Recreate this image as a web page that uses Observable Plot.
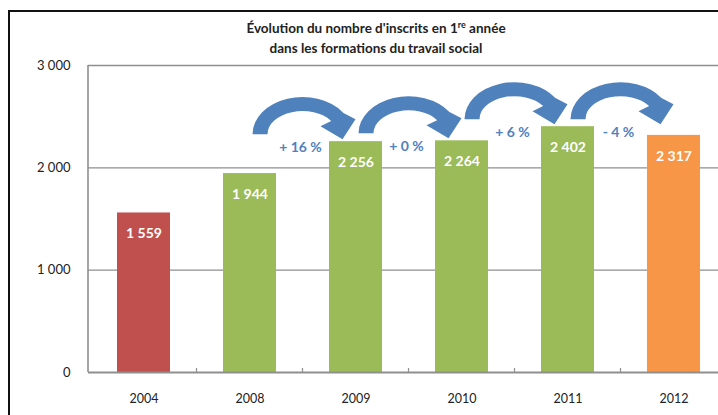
<!DOCTYPE html>
<html>
<head>
<meta charset="utf-8">
<script src="https://cdn.jsdelivr.net/npm/d3@7"></script>
<script src="https://cdn.jsdelivr.net/npm/@observablehq/plot@0.6"></script>
<style>
  html, body { margin: 0; padding: 0; background: #fff; }
  #wrap { position: relative; width: 718px; height: 415px; overflow: hidden; font-family: Lato, "Open Sans", sans-serif; }
  #frame { position: absolute; left: 8px; top: 10px; width: 800px; height: 600px; border: 2px solid #111; box-sizing: border-box; pointer-events: none; }
  #title { position: absolute; left: 0; top: 19px; width: 752px; text-align: center; font-weight: bold; font-size: 13.5px; line-height: 19px; color: #222; }
  #title sup { font-size: 9px; vertical-align: 0; position: relative; top: -5px; }
  #chart { position: absolute; left: 0; top: 0; }
</style>
</head>
<body>
<div id="wrap">
  <div id="chart"></div>
  <div id="frame"></div>
  <div id="title">Évolution du nombre d'inscrits en 1<sup>re</sup> année<br>dans les formations du travail social</div>
</div>
<script>
// ---- data ----
const years = ["2004", "2008", "2009", "2010", "2011", "2012"];
const inscrits = [1559, 1944, 2256, 2264, 2402, 2317];
const barColors = ["#C0504D", "#9BBB59", "#9BBB59", "#9BBB59", "#9BBB59", "#F79646"];
const yTicks = [0, 1000, 2000, 3000];
const yTickLabels = ["0", "1 000", "2 000", "3 000"];
const arrowPairs = [["2008", "2009"], ["2009", "2010"], ["2010", "2011"], ["2011", "2012"]];

// ---- derived tables ----
const fmt = v => String(v).replace(/\B(?=(\d{3})+(?!\d))/g, " ");
const bars = years.map((year, i) => ({year, value: inscrits[i], color: barColors[i], label: fmt(inscrits[i])}));
const valueOf = Object.fromEntries(years.map((y, i) => [y, inscrits[i]]));
const changes = arrowPairs.map(([from, to]) => {
  const pct = Math.round((valueOf[to] - valueOf[from]) / valueOf[from] * 100);
  return {from, to, top: Math.max(valueOf[from], valueOf[to]),
          label: (pct < 0 ? "- " : "+ ") + Math.abs(pct) + " %"};
});

const BLUE = "#4F81BD";
const GRID = "#8f8f8f";

function bw(s) { return typeof s.bandwidth === "function" ? s.bandwidth() : s.bandwidth; }

// custom mark: left axis line, category boundary ticks, curved arrows + labels
function decorations(index, scales, values, dim) {
  const ns = "http://www.w3.org/2000/svg";
  const g = document.createElementNS(ns, "g");
  const x = scales.x, y = scales.y, w = bw(x);
  const y0 = y(0);
  // left axis line
  const la = document.createElementNS(ns, "line");
  la.setAttribute("x1", dim.marginLeft); la.setAttribute("x2", dim.marginLeft);
  la.setAttribute("y1", y(3000)); la.setAttribute("y2", y0);
  la.setAttribute("stroke", GRID); la.setAttribute("stroke-width", 1.6);
  g.appendChild(la);
  // boundary ticks
  for (let i = 1; i < years.length; i++) {
    const bx = (x(years[i - 1]) + w + x(years[i])) / 2;
    const t = document.createElementNS(ns, "line");
    t.setAttribute("x1", bx); t.setAttribute("x2", bx);
    t.setAttribute("y1", y0); t.setAttribute("y2", y0 - 4);
    t.setAttribute("stroke", GRID); t.setAttribute("stroke-width", 1.2);
    g.appendChild(t);
  }
  // arrows
  for (const c of changes) {
    const cx = (x(c.from) + w + x(c.to)) / 2;
    const base = y(c.top) - 7;
    const ro = [50, 37], ri = [35, 23], a = 35 * Math.PI / 180;
    const oe = [cx + ro[0] * Math.cos(a), base - ro[1] * Math.sin(a)];
    const ie = [cx + ri[0] * Math.cos(a), base - ri[1] * Math.sin(a)];
    const d = `M${cx - ro[0]},${base} A${ro[0]},${ro[1]} 0 0 1 ${oe[0]},${oe[1]}`
      + ` L${cx + 53},${base - 15} L${cx + 40},${base + 5} L${cx + 18},${base - 8}`
      + ` L${ie[0]},${ie[1]} A${ri[0]},${ri[1]} 0 0 0 ${cx - ri[0]},${base} Z`;
    const p = document.createElementNS(ns, "path");
    p.setAttribute("d", d); p.setAttribute("fill", BLUE);
    g.appendChild(p);
    const tx = document.createElementNS(ns, "text");
    tx.setAttribute("x", cx - 2); tx.setAttribute("y", base + 13);
    tx.setAttribute("dy", "0.35em");
    tx.setAttribute("text-anchor", "middle");
    tx.setAttribute("fill", BLUE);
    tx.setAttribute("font-weight", "bold");
    tx.setAttribute("font-size", 14);
    tx.setAttribute("font-family", "Lato, 'Open Sans', sans-serif");
    tx.textContent = c.label;
    g.appendChild(tx);
  }
  return g;
}

const chart = Plot.plot({
  width: 718,
  height: 415,
  marginLeft: 88,
  marginRight: 0,
  marginTop: 65,
  marginBottom: 43,
  style: {fontFamily: "Lato, 'Open Sans', sans-serif", background: "transparent", overflow: "visible"},
  x: {domain: years, range: [88, 728], paddingInner: 0.5, paddingOuter: 0.25, axis: null, label: null},
  y: {domain: [0, 3000], axis: null, label: null},
  marks: [
    Plot.gridY(yTicks.slice(1), {stroke: GRID, strokeOpacity: 1, strokeWidth: 1.4}),
    Plot.barY(bars, {x: "year", y: "value", fill: "color"}),
    Plot.ruleY([0], {stroke: GRID, strokeWidth: 2}),
    Plot.axisY(yTicks, {tickSize: 0, tickPadding: 18, fontSize: 13, fill: "#222", label: null,
      tickFormat: (d) => yTickLabels[yTicks.indexOf(d)]}),
    Plot.axisX({tickSize: 0, tickPadding: 22, fontSize: 12.5, fill: "#222", label: null}),
    Plot.text(bars, {x: "year", y: "value", text: "label", dy: 21, fill: "white",
      fontWeight: "bold", fontSize: 14}),
    decorations
  ]
});
document.getElementById("chart").appendChild(chart);
</script>
</body>
</html>
